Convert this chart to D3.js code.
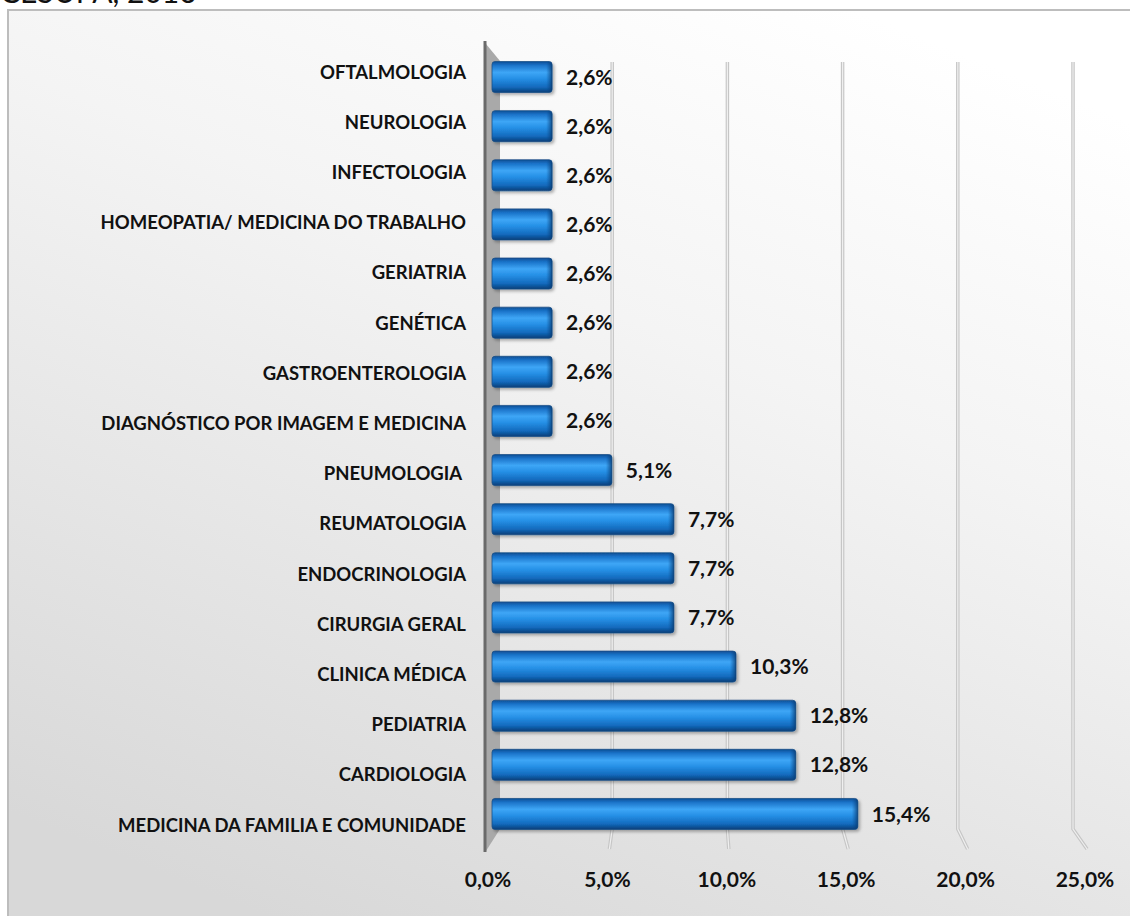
<!DOCTYPE html>
<html>
<head>
<meta charset="utf-8">
<script src="https://cdn.jsdelivr.net/npm/d3@7"></script>
<style>
  body { margin: 0; background: #fff; }
  svg { display: block; font-family: Lato, 'Open Sans', sans-serif; }
</style>
</head>
<body>
<div id="chart"></div>
<script>
// data, top to bottom as drawn
const categories = [
  'OFTALMOLOGIA',
  'NEUROLOGIA',
  'INFECTOLOGIA',
  'HOMEOPATIA/ MEDICINA DO TRABALHO',
  'GERIATRIA',
  'GENÉTICA',
  'GASTROENTEROLOGIA',
  'DIAGNÓSTICO POR IMAGEM E MEDICINA',
  'PNEUMOLOGIA ',
  'REUMATOLOGIA',
  'ENDOCRINOLOGIA',
  'CIRURGIA GERAL',
  'CLINICA MÉDICA',
  'PEDIATRIA',
  'CARDIOLOGIA',
  'MEDICINA DA FAMILIA E COMUNIDADE'
]
const values = [2.6, 2.6, 2.6, 2.6, 2.6, 2.6, 2.6, 2.6, 5.1, 7.7, 7.7, 7.7, 10.3, 12.8, 12.8, 15.4]
const ticks = [0, 5, 10, 15, 20, 25]
const title = 'CESUPA, 2016'

const width = 1130
const height = 916
const fmt = v => v.toFixed(1).replace('.', ',') + '%'

const svg = d3.select('#chart').append('svg')
  .attr('width', width)
  .attr('height', height)

const defs = svg.append('defs')

// background of the chart area
const bg = defs.append('linearGradient')
  .attr('id', 'bg')
  .attr('x1', 0.75).attr('y1', 0)
  .attr('x2', 0.25).attr('y2', 1)
bg.append('stop').attr('offset', 0).attr('stop-color', '#ffffff')
bg.append('stop').attr('offset', 0.35).attr('stop-color', '#f4f4f4')
bg.append('stop').attr('offset', 1).attr('stop-color', '#d8d8d8')

// cylinder look of the bars
const barGrad = defs.append('linearGradient')
  .attr('id', 'bar')
  .attr('x1', 0).attr('y1', 0)
  .attr('x2', 0).attr('y2', 1)
const barStops = [
  [0, '#0d4f95'], [0.12, '#1a72c8'], [0.35, '#3ea6f6'],
  [0.55, '#2690e6'], [0.82, '#136abd'], [1, '#083e78']
]
barStops.forEach(s => barGrad.append('stop').attr('offset', s[0]).attr('stop-color', s[1]))

const capGrad = defs.append('linearGradient')
  .attr('id', 'cap')
  .attr('x1', 0).attr('y1', 0)
  .attr('x2', 1).attr('y2', 0)
capGrad.append('stop').attr('offset', 0).attr('stop-color', '#0b4a8c').attr('stop-opacity', 0)
capGrad.append('stop').attr('offset', 1).attr('stop-color', '#083a70').attr('stop-opacity', 0.8)

const shadow = defs.append('filter')
  .attr('id', 'shadow')
  .attr('x', '-5%').attr('y', '-20%')
  .attr('width', '115%').attr('height', '160%')
shadow.append('feDropShadow')
  .attr('dx', 2).attr('dy', 2)
  .attr('stdDeviation', 1.5)
  .attr('flood-color', '#000')
  .attr('flood-opacity', 0.3)

// title, cut off at the top of the picture like in the source
svg.append('text')
  .attr('x', 0)
  .attr('y', 3)
  .attr('font-size', 30)
  .attr('fill', '#111')
  .text(title)

// chart frame
svg.append('rect')
  .attr('x', 8).attr('y', 10)
  .attr('width', width).attr('height', height)
  .attr('fill', 'url(#bg)')
  .attr('stroke', '#bdbdbd')
  .attr('stroke-width', 2)

// front scale (bars, tick labels) and back scale (wall gridlines)
const x = d3.scaleLinear().domain([0, 25]).range([490, 1087])
const xb = d3.scaleLinear().domain([0, 25]).range([497, 1073])
const y = d3.scaleBand().domain(categories).range([43.4, 847.6]).padding(0.369)
const yl = d3.scaleBand().domain(categories).range([37.6, 859.3]).padding(0.369)

const gridTop = 62
const gridBottom = 829
const floorFront = 849

// gridlines on the back wall with a short run across the floor
const grid = svg.append('g')
ticks.filter(t => t > 0).forEach(t => {
  const d = `M${xb(t)},${gridTop}V${gridBottom}L${x(t)},${floorFront}`
  grid.append('path')
    .attr('d', d)
    .attr('fill', 'none')
    .attr('stroke', '#c6c6c6')
    .attr('stroke-width', 3.5)
  grid.append('path')
    .attr('d', d)
    .attr('fill', 'none')
    .attr('stroke', '#efefef')
    .attr('stroke-width', 1.2)
})

// left wall
const wx = x(0)
svg.append('path')
  .attr('d', `M${wx - 4},44L${wx + 10},61V${gridBottom}L${wx - 4},${floorFront + 2}Z`)
  .attr('fill', '#a9a9a9')
svg.append('line')
  .attr('x1', wx - 5).attr('x2', wx - 5)
  .attr('y1', 41).attr('y2', floorFront + 3)
  .attr('stroke', '#6a6a6a')
  .attr('stroke-width', 3)

// bars
const bars = svg.append('g')
  .selectAll('g')
  .data(categories)
  .join('g')

bars.append('rect')
  .attr('x', x(0) + 2)
  .attr('y', d => y(d))
  .attr('width', (d, i) => x(values[i]) - x(0) - 2)
  .attr('height', y.bandwidth())
  .attr('rx', 3)
  .attr('fill', 'url(#bar)')
  .attr('stroke', '#1b4f86')
  .attr('stroke-width', 0.8)
  .attr('filter', 'url(#shadow)')

bars.append('rect')
  .attr('x', (d, i) => x(values[i]) - 6)
  .attr('y', d => y(d) + 0.5)
  .attr('width', 6)
  .attr('height', y.bandwidth() - 1)
  .attr('rx', 3)
  .attr('fill', 'url(#cap)')

// value labels
bars.append('text')
  .attr('x', (d, i) => x(values[i]) + 14)
  .attr('y', d => y(d) + y.bandwidth() / 2)
  .attr('dy', '0.36em')
  .attr('font-size', 21)
  .attr('font-weight', 700)
  .attr('fill', '#111')
  .text((d, i) => fmt(values[i]))

// category labels
svg.append('g')
  .selectAll('text')
  .data(categories)
  .join('text')
  .attr('x', 466)
  .attr('y', d => yl(d) + yl.bandwidth() / 2)
  .attr('dy', '0.36em')
  .attr('text-anchor', 'end')
  .attr('font-size', 18.5)
  .attr('font-weight', 700)
  .attr('fill', '#111')
  .style('white-space', 'pre')
  .text(d => d)

// x axis labels
svg.append('g')
  .selectAll('text')
  .data(ticks)
  .join('text')
  .attr('x', d => x(d) - 2)
  .attr('y', 887)
  .attr('text-anchor', 'middle')
  .attr('font-size', 21)
  .attr('font-weight', 700)
  .attr('fill', '#111')
  .text(d => fmt(d))
</script>
</body>
</html>
